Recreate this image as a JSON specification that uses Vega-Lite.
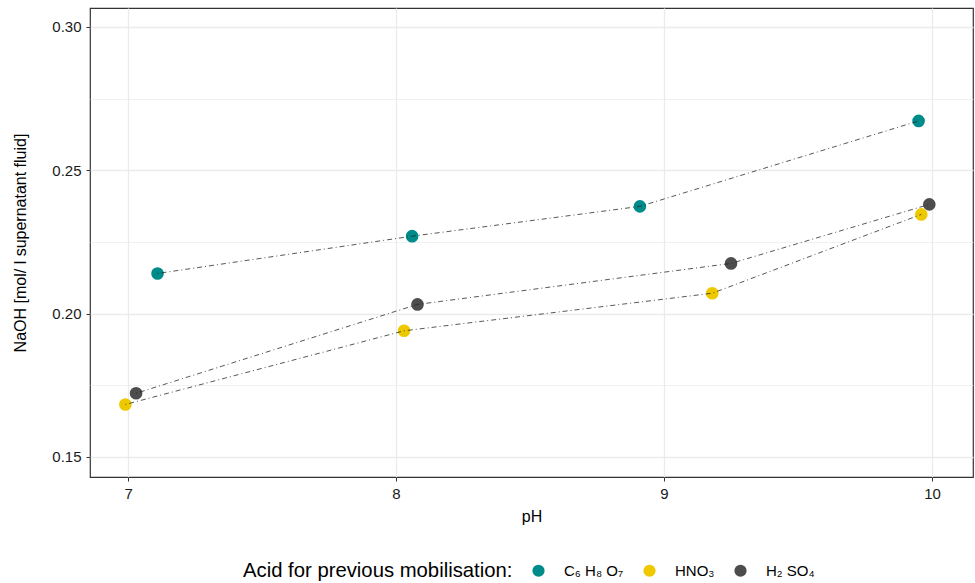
{
  "$schema": "https://vega.github.io/schema/vega-lite/v6.json",
  "width": 883,
  "height": 469,
  "padding": {"left": 12, "top": 8, "right": 2, "bottom": 2},
  "background": "white",
  "data": {
    "values": [
      {"acid": "C₆ H₈ O₇", "pH": 7.11, "NaOH": 0.2140},
      {"acid": "C₆ H₈ O₇", "pH": 8.06, "NaOH": 0.2270},
      {"acid": "C₆ H₈ O₇", "pH": 8.91, "NaOH": 0.2374},
      {"acid": "C₆ H₈ O₇", "pH": 9.95, "NaOH": 0.2672},
      {"acid": "HNO₃", "pH": 6.99, "NaOH": 0.1683},
      {"acid": "HNO₃", "pH": 8.03, "NaOH": 0.1940},
      {"acid": "HNO₃", "pH": 9.18, "NaOH": 0.2071},
      {"acid": "HNO₃", "pH": 9.96, "NaOH": 0.2346},
      {"acid": "H₂ SO₄", "pH": 7.03, "NaOH": 0.1722},
      {"acid": "H₂ SO₄", "pH": 8.08, "NaOH": 0.2032},
      {"acid": "H₂ SO₄", "pH": 9.25, "NaOH": 0.2175},
      {"acid": "H₂ SO₄", "pH": 9.99, "NaOH": 0.2381}
    ]
  },
  "encoding": {
    "x": {
      "field": "pH", "type": "quantitative",
      "scale": {"domain": [6.858, 10.153], "nice": false, "zero": false},
      "axis": {
        "title": "pH",
        "values": [7, 7.5, 8, 8.5, 9, 9.5, 10],
        "format": "d",
        "labelExpr": "datum.value % 1 == 0 ? datum.label : ''",
        "tickOpacity": {"condition": {"test": "datum.value % 1 == 0", "value": 1}, "value": 0},
        "gridWidth": {"condition": {"test": "datum.value % 1 == 0", "value": 1.3}, "value": 0.7}
      }
    },
    "y": {
      "field": "NaOH", "type": "quantitative",
      "scale": {"domain": [0.1430, 0.3066], "nice": false, "zero": false},
      "axis": {
        "title": "NaOH [mol/ l supernatant fluid]",
        "values": [0.15, 0.175, 0.2, 0.225, 0.25, 0.275, 0.3],
        "format": ".2f",
        "labelExpr": "round(datum.value * 1000) % 50 == 0 ? datum.label : ''",
        "tickOpacity": {"condition": {"test": "round(datum.value * 1000) % 50 == 0", "value": 1}, "value": 0},
        "gridWidth": {"condition": {"test": "round(datum.value * 1000) % 50 == 0", "value": 1.3}, "value": 0.7}
      }
    }
  },
  "layer": [
    {
      "mark": {"type": "point", "filled": true, "size": 160, "opacity": 1},
      "encoding": {
        "color": {
          "field": "acid", "type": "nominal",
          "scale": {"domain": ["C₆ H₈ O₇", "HNO₃", "H₂ SO₄"], "range": ["#008B8B", "#EEC900", "#4D4D4D"]},
          "legend": {
            "title": "Acid for previous mobilisation:",
            "orient": "none",
            "legendX": 153,
            "legendY": 555,
            "direction": "horizontal",
            "titleOrient": "left",
            "titleLimit": 400,
            "titlePadding": 18,
            "symbolType": "circle",
            "symbolSize": 150,
            "symbolOpacity": 1,
            "labelFontSize": 15,
            "titleFontSize": 20.3,
            "titleFontWeight": "normal",
            "titleColor": "black",
            "labelColor": "black",
            "columnPadding": 18,
            "labelOffset": 18
          }
        }
      }
    },
    {
      "mark": {"type": "line", "color": "#222222", "strokeWidth": 0.9, "strokeDash": [1, 3, 5, 3], "opacity": 0.85},
      "encoding": {"detail": {"field": "acid", "type": "nominal"}, "order": {"field": "pH", "type": "quantitative"}}
    }
  ],
  "config": {
    "font": "Liberation Sans",
    "view": {"stroke": "#333333", "strokeWidth": 1.2},
    "axis": {
      "gridColor": "#EBEBEB",
      "domain": false,
      "tickColor": "#333333",
      "tickSize": 4,
      "labelFontSize": 15,
      "labelColor": "#1a1a1a",
      "titleFontSize": 16,
      "titleFontWeight": "normal",
      "titleColor": "black",
      "labelPadding": 5
    },
    "axisX": {"titlePadding": 7},
    "axisY": {"titlePadding": 23}
  }
}
